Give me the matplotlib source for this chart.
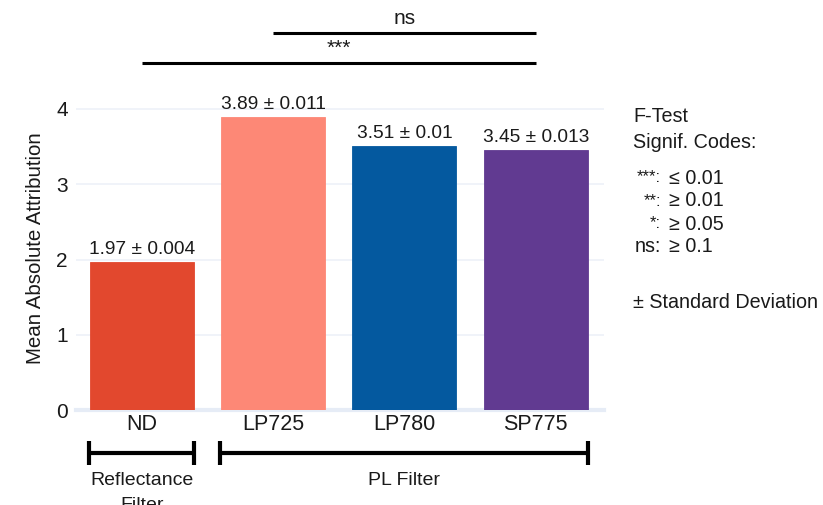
import matplotlib
matplotlib.use("Agg")
import matplotlib.pyplot as plt

plt.rcParams['font.family'] = ['Liberation Sans', 'DejaVu Sans']

categories = ["ND", "LP725", "LP780", "SP775"]
means = [1.97, 3.89, 3.51, 3.45]
stds = ["0.004", "0.011", "0.01", "0.013"]
colors = ["#e2482e", "#fd8876", "#04599f", "#613a91"]
groups = ["Reflectance\nFilter", "PL Filter"]
group_spans = [(0, 0), (1, 3)]
sig_pairs = [((1, 3), "ns"), ((0, 3), "***")]
yticks = [0, 1, 2, 3, 4]
legend_codes = [("***:", "≤ 0.01"), ("**:", "≥ 0.01"), ("*:", "≥ 0.05"), ("ns:", "≥ 0.1")]

W, H = 823, 505
fig = plt.figure(figsize=(W / 100, H / 100), dpi=100)
left, right, bottom_px = 76, 604, 410
ymax = 4.3
px_per_unit = 75.25
top_px = bottom_px - ymax * px_per_unit
ax = fig.add_axes([left / W, (H - bottom_px) / H, (right - left) / W, (bottom_px - top_px) / H])
ax.set_xlim(-0.5, 3.52)
ax.set_ylim(0, ymax)

TXT = "#1a1a1a"
x = list(range(len(categories)))
ax.bar(x, means, width=0.79, color=colors, edgecolor=colors, linewidth=0.6, zorder=3)
for xi, m, s in zip(x, means, stds):
    ax.annotate(f"{m:g} ± {s}", (xi, m), xytext=(0, 3), textcoords="offset points",
                ha="center", va="bottom", fontsize=13.8, color=TXT)

for s in ax.spines.values():
    s.set_visible(False)
ax.set_yticks(yticks)
ax.set_yticklabels([str(t) for t in yticks], fontsize=15)
ax.set_xticks(x)
ax.set_xticklabels(categories, fontsize=15.5)
ax.tick_params(axis="both", length=0, pad=6, colors=TXT)
ax.tick_params(axis="x", pad=3)
for t in yticks[1:]:
    ax.axhline(t, color="#edf1f8", lw=1.2, zorder=0)
ax.axhline(0, color="#e6ecf6", lw=3, zorder=1, clip_on=False)
ax.set_ylabel("Mean Absolute Attribution", fontsize=14.8, labelpad=8, color=TXT)

# group brackets below
yb = -0.571
for (a, b), g in zip(group_spans, groups):
    x0, x1 = a - 0.40, b + 0.40
    ax.plot([x0, x1], [yb, yb], color="black", lw=3, clip_on=False, solid_capstyle="butt")
    for xx in (x0, x1):
        ax.plot([xx, xx], [-0.41, -0.73], color="black", lw=3, clip_on=False, solid_capstyle="butt")
    ax.text((x0 + x1) / 2, -0.82, g, ha="center", va="top", fontsize=14,
            linespacing=1.6, color=TXT, clip_on=False)

# significance brackets on top
sig_y = {"ns": 5.01, "***": 4.61}
for (a, b), lab in sig_pairs:
    yy = sig_y[lab]
    ax.plot([a, b], [yy, yy], color="black", lw=2.2, clip_on=False, solid_capstyle="butt")
    ax.text((a + b) / 2, yy + 0.07, lab, ha="center", va="bottom",
            fontsize=15, color=TXT, clip_on=False)

# right-hand legend text
fs = 14.2
fig.text(633 / W, 1 - 117 / H, "F-Test", fontsize=fs, va="center", ha="left", color=TXT)
fig.text(633 / W, 1 - 142 / H, "Signif. Codes:", fontsize=fs, va="center", ha="left", color=TXT)
for i, (code, val) in enumerate(legend_codes):
    yy = 1 - (178 + 23 * i) / H
    fig.text(661 / W, yy, code, fontsize=fs if code == "ns:" else 12, va="center", ha="right", color=TXT)
    fig.text(669 / W, yy, val, fontsize=fs, va="center", ha="left", color=TXT)
fig.text(633 / W, 1 - 302 / H, "± Standard Deviation", fontsize=fs, va="center", ha="left", color=TXT)

fig.savefig("out.png", dpi=100)
